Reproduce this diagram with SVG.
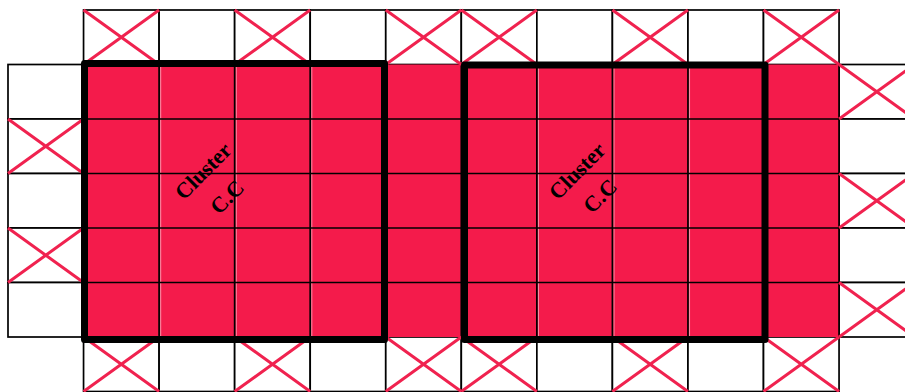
<svg xmlns="http://www.w3.org/2000/svg" width="905" height="392" viewBox="0 0 905 392">
<style>
.cell{fill:#fff;stroke:#000;stroke-width:1.7}
.red{fill:#f41b4b}
.grid{stroke:#000;stroke-width:1.7;fill:none}
.hl{stroke:#f9b3c2;stroke-width:0.8;fill:none}
.x{stroke:#f0224f;stroke-width:3;fill:none}
.cluster{fill:none;stroke:#000;stroke-width:7;stroke-linejoin:round}
.lbl{font-family:"Liberation Serif","Times New Roman",serif;font-weight:bold;font-size:22px;fill:#000}
</style>
<rect x="0" y="0" width="905" height="392" fill="#fff"/>
<g id="outer-cells">
<rect class="cell" x="83.55" y="10" width="75.55" height="54.5"/>
<rect class="cell" x="159.1" y="10" width="75.55" height="54.5"/>
<rect class="cell" x="234.65" y="10" width="75.55" height="54.5"/>
<rect class="cell" x="310.2" y="10" width="75.55" height="54.5"/>
<rect class="cell" x="385.75" y="10" width="75.55" height="54.5"/>
<rect class="cell" x="461.3" y="10" width="75.55" height="54.5"/>
<rect class="cell" x="536.85" y="10" width="75.55" height="54.5"/>
<rect class="cell" x="612.4" y="10" width="75.55" height="54.5"/>
<rect class="cell" x="687.95" y="10" width="75.55" height="54.5"/>
<rect class="cell" x="763.5" y="10" width="75.55" height="54.5"/>
<rect class="cell" x="83.55" y="337" width="75.55" height="54.5"/>
<rect class="cell" x="159.1" y="337" width="75.55" height="54.5"/>
<rect class="cell" x="234.65" y="337" width="75.55" height="54.5"/>
<rect class="cell" x="310.2" y="337" width="75.55" height="54.5"/>
<rect class="cell" x="385.75" y="337" width="75.55" height="54.5"/>
<rect class="cell" x="461.3" y="337" width="75.55" height="54.5"/>
<rect class="cell" x="536.85" y="337" width="75.55" height="54.5"/>
<rect class="cell" x="612.4" y="337" width="75.55" height="54.5"/>
<rect class="cell" x="687.95" y="337" width="75.55" height="54.5"/>
<rect class="cell" x="763.5" y="337" width="75.55" height="54.5"/>
<rect class="cell" x="8" y="64.5" width="75.55" height="54.5"/>
<rect class="cell" x="8" y="119" width="75.55" height="54.5"/>
<rect class="cell" x="8" y="173.5" width="75.55" height="54.5"/>
<rect class="cell" x="8" y="228" width="75.55" height="54.5"/>
<rect class="cell" x="8" y="282.5" width="75.55" height="54.5"/>
<rect class="cell" x="839.05" y="64.5" width="75.55" height="54.5"/>
<rect class="cell" x="839.05" y="119" width="75.55" height="54.5"/>
<rect class="cell" x="839.05" y="173.5" width="75.55" height="54.5"/>
<rect class="cell" x="839.05" y="228" width="75.55" height="54.5"/>
<rect class="cell" x="839.05" y="282.5" width="75.55" height="54.5"/>
</g>
<g id="red-area">
<rect class="red" x="83.55" y="64.5" width="755.5" height="272.5"/>
<path class="hl" d="M160.7 64.5V337M236.25 64.5V337M311.8 64.5V337M387.35 64.5V337M462.9 64.5V337M538.45 64.5V337M614 64.5V337M689.55 64.5V337M765.1 64.5V337"/>
<path class="grid" d="M159.1 64.5V337M234.65 64.5V337M310.2 64.5V337M385.75 64.5V337M461.3 64.5V337M536.85 64.5V337M612.4 64.5V337M687.95 64.5V337M763.5 64.5V337M839.05 64.5V337M83.55 119H839.05M83.55 173.5H839.05M83.55 228H839.05M83.55 282.5H839.05"/>
</g>
<g id="crosses">
<path class="x" d="M83.55 10L159.1 64.5M83.55 64.5L159.1 10M234.65 10L310.2 64.5M234.65 64.5L310.2 10M385.75 10L461.3 64.5M385.75 64.5L461.3 10M461.3 10L536.85 64.5M461.3 64.5L536.85 10M612.4 10L687.95 64.5M612.4 64.5L687.95 10M763.5 10L839.05 64.5M763.5 64.5L839.05 10"/>
<path class="x" d="M83.55 337L159.1 391.5M83.55 391.5L159.1 337M234.65 337L310.2 391.5M234.65 391.5L310.2 337M385.75 337L461.3 391.5M385.75 391.5L461.3 337M461.3 337L536.85 391.5M461.3 391.5L536.85 337M612.4 337L687.95 391.5M612.4 391.5L687.95 337M763.5 337L839.05 391.5M763.5 391.5L839.05 337"/>
<path class="x" d="M8 119L83.55 173.5M8 173.5L83.55 119M8 228L83.55 282.5M8 282.5L83.55 228"/>
<path class="x" d="M839.05 64.5L914.6 119M839.05 119L914.6 64.5M839.05 173.5L914.6 228M839.05 228L914.6 173.5M839.05 282.5L914.6 337M839.05 337L914.6 282.5"/>
</g>
<g id="cluster1">
<rect class="cluster" x="84.5" y="63.5" width="300" height="276"/>
<text class="lbl" transform="translate(203,171) rotate(-45)" text-anchor="middle" dominant-baseline="central">Cluster</text>
<text class="lbl" transform="translate(227,197) rotate(-45)" text-anchor="middle" dominant-baseline="central">C.C</text>
</g>
<g id="cluster2">
<rect class="cluster" x="464.5" y="65" width="300.5" height="274.5"/>
<text class="lbl" transform="translate(577,171) rotate(-45)" text-anchor="middle" dominant-baseline="central">Cluster</text>
<text class="lbl" transform="translate(600,196) rotate(-45)" text-anchor="middle" dominant-baseline="central">C.C</text>
</g>
</svg>
